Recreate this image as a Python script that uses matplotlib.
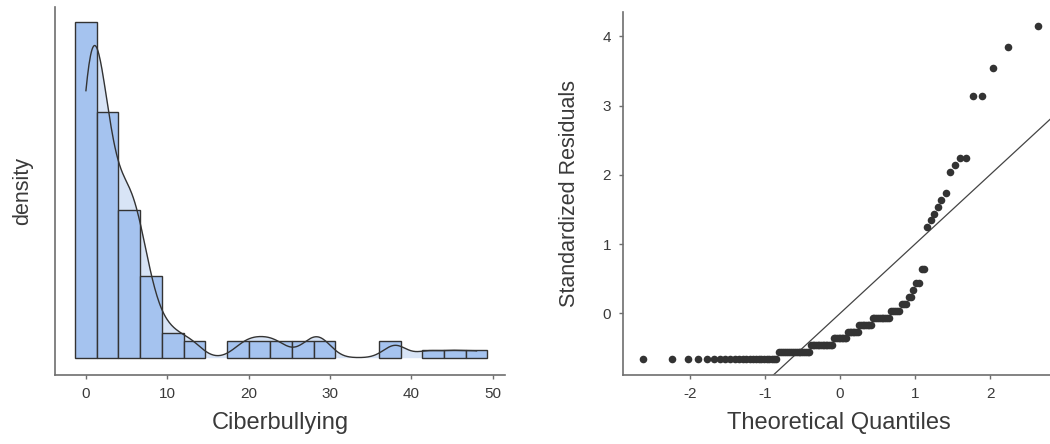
import numpy as np
import matplotlib
matplotlib.use('Agg')
import matplotlib.pyplot as plt
from statistics import NormalDist

# ---- data: Ciberbullying scores (distinct values) and their frequencies ----
scores = [0, 1, 2, 3, 4, 5, 6, 7, 8, 9, 10, 11, 13,
          19, 20, 21, 22, 23, 24, 27, 28, 29, 38, 42, 45, 48]
freqs = [24, 17, 14, 9, 7, 8, 10, 5, 3, 2, 1, 2, 2,
         1, 1, 1, 1, 1, 1, 1, 1, 2, 2, 1, 1, 1]
hist_xticks = [0, 10, 20, 30, 40, 50]
qq_xticks = [-2, -1, 0, 1, 2]
qq_yticks = [0, 1, 2, 3, 4]
x_label_left = "Ciberbullying"
y_label_left = "density"
x_label_right = "Theoretical Quantiles"
y_label_right = "Standardized Residuals"

plt.rcParams['font.family'] = ['Liberation Sans', 'DejaVu Sans']
plt.rcParams['axes.unicode_minus'] = False

data = np.repeat(np.array(scores, dtype=float), freqs)
n = len(data)

BAR = '#a5c3ef'
FILL = '#d8e4f6'
DARK = '#333333'
SPINE = '#6e6e6e'
TXT = '#3a3a3a'

fig = plt.figure(figsize=(10.5, 4.44), dpi=100)
axL = fig.add_axes([55/1050, 69/444, 450/1050, 368/444])
axR = fig.add_axes([622.7/1050, 69/444, 427.3/1050, 363/444])

# ---- histogram (19 bins centred on min..max, right-closed) ----
n_bins = 19
w = (data.max() - data.min()) / (n_bins - 1)
edges = data.min() - w/2 + w*np.arange(n_bins + 1) + 1e-9

# density curve (gaussian kernel, nrd0 bandwidth)
sd = data.std(ddof=1)
q75, q25 = np.percentile(data, [75, 25])
bw = 0.9*min(sd, (q75 - q25)/1.34)*n**(-0.2)
xs = np.linspace(data.min(), data.max(), 512)
kde = np.exp(-0.5*((xs[:, None] - data[None, :])/bw)**2).sum(axis=1)/(n*bw*np.sqrt(2*np.pi))

axL.fill_between(xs, kde, 0, color=FILL, linewidth=0, zorder=1)
_, _, patches = axL.hist(data, bins=edges, density=True, color=BAR,
                         edgecolor=DARK, linewidth=1.0, zorder=2)
for p in patches:
    if p.get_height() == 0:
        p.set_visible(False)
axL.plot(xs, kde, color=DARK, linewidth=1.0, zorder=3)

axL.set_xlim(-3.8, 51.5)
axL.set_ylim(-0.00667, 0.1351)
axL.set_xticks(hist_xticks)
axL.set_yticks([])
axL.set_xlabel(x_label_left, fontsize=17, color=TXT)
axL.set_ylabel(y_label_left, fontsize=15.5, color=TXT)
axL.xaxis.set_label_coords(0.501, -0.100)
axL.yaxis.set_label_coords(-0.048, 0.5)

# ---- Q-Q plot of standardized residuals (intercept-only model) ----
resid = data - data.mean()
std_resid = np.sort(resid/(sd*np.sqrt(1 - 1/n)))
nd = NormalDist()
theo = np.array([nd.inv_cdf((i - 0.5)/n) for i in range(1, n + 1)])

axR.axline((0, 0), slope=1, color='#444444', linewidth=0.9, zorder=1)
axR.scatter(theo, std_resid, s=30, color=DARK, linewidths=0, zorder=2)
axR.set_xlim(-2.9, 2.8)
axR.set_ylim(-0.89, 4.35)
axR.set_xticks(qq_xticks)
axR.set_yticks(qq_yticks)
axR.set_xlabel(x_label_right, fontsize=17, color=TXT)
axR.set_ylabel(y_label_right, fontsize=15.5, color=TXT)
axR.xaxis.set_label_coords(0.506, -0.102)
axR.yaxis.set_label_coords(-0.10, 0.5)

for ax in (axL, axR):
    for s in ('top', 'right'):
        ax.spines[s].set_visible(False)
    for s in ('left', 'bottom'):
        ax.spines[s].set_color(SPINE)
        ax.spines[s].set_linewidth(1.2)
    ax.tick_params(axis='both', length=3, width=1, color=SPINE,
                   labelsize=11, labelcolor=TXT, pad=5.5)
    ax.patch.set_visible(False)

fig.savefig('out.png', dpi=100, facecolor='white')
